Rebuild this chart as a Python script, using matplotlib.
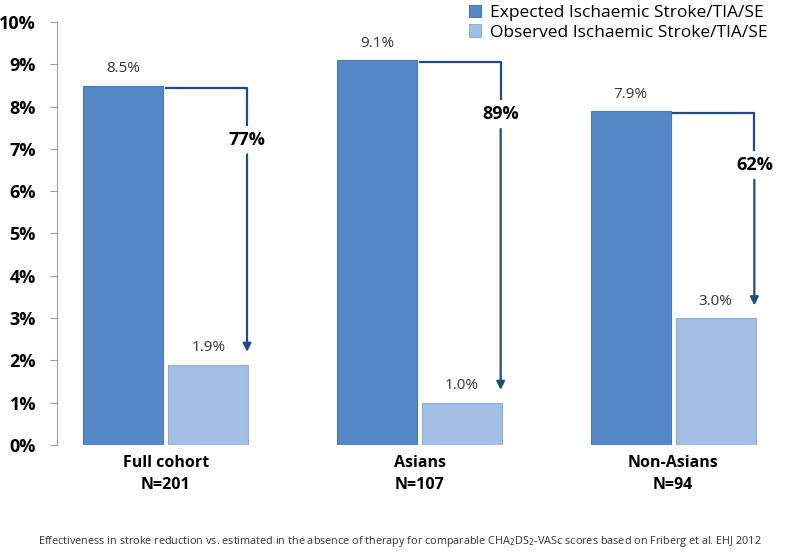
import matplotlib.pyplot as plt
import numpy as np

plt.rcParams['font.family'] = ['Open Sans', 'DejaVu Sans']

groups = ['Full cohort\nN=201', 'Asians\nN=107', 'Non-Asians\nN=94']
expected = [8.5, 9.1, 7.9]
observed = [1.9, 1.0, 3.0]
reduction = ['77%', '89%', '62%']
series = ['Expected Ischaemic Stroke/TIA/SE', 'Observed Ischaemic Stroke/TIA/SE']
footnote = ('Effectiveness in stroke reduction vs. estimated in the absence of therapy '
            'for comparable CHA$_2$DS$_2$-VASc scores based on Friberg et al. EHJ 2012')

c_exp = '#5588C8'
c_obs = '#A3BFE3'
c_arrow = '#1F4B86'

fig = plt.figure(figsize=(8, 5.52), dpi=100)
ax = fig.add_axes([0.071, 0.194, 0.929, 0.766])

x = np.arange(len(groups))
w = 0.315
gap = 0.02
xe = x - (w + gap) / 2
xo = x + (w + gap) / 2
b1 = ax.bar(xe, expected, w, color=c_exp, edgecolor='#4A79B5', linewidth=0.8, label=series[0])
b2 = ax.bar(xo, observed, w, color=c_obs, edgecolor='#8FAED6', linewidth=0.8, label=series[1])

for xi, v in zip(xe, expected):
    ax.text(xi, v + 0.22, f'{v:.1f}%', ha='center', va='bottom', fontsize=11, color='#333333')
for xi, v in zip(xo, observed):
    ax.text(xi, v + 0.22, f'{v:.1f}%', ha='center', va='bottom', fontsize=11, color='#333333')

# reduction arrows
for i in range(len(groups)):
    x0 = xe[i] + w / 2 + 0.01
    x1 = xo[i] + w / 2 - 0.005
    top = expected[i] - 0.05
    bot = observed[i] + 0.3
    ymid = expected[i] - 1.28
    ax.plot([x0, x1, x1], [top, top, ymid + 0.35], color=c_arrow, lw=1.6)
    ax.annotate('', xy=(x1, bot), xytext=(x1, ymid - 0.35),
                arrowprops=dict(arrowstyle='-|>', color=c_arrow, lw=1.6,
                                mutation_scale=12, shrinkA=0, shrinkB=0))
    ax.text(x1, ymid, reduction[i], ha='center', va='center', fontsize=13,
            fontweight='bold', color='black')

ax.set_ylim(0, 10)
ax.set_xlim(-0.43, 2.5)
ax.set_yticks(range(0, 11))
ax.set_yticklabels([f'{t}%' for t in range(0, 11)], fontsize=13, fontweight='bold')
ax.set_xticks(x)
ax.set_xticklabels(groups, fontsize=11.5, fontweight='bold', linespacing=1.55)
ax.tick_params(axis='x', length=0, pad=7)
ax.tick_params(axis='y', length=5, color='#A0A0A0', pad=10)
for s in ['top', 'right', 'bottom']:
    ax.spines[s].set_visible(False)
ax.spines['left'].set_color('#A0A0A0')

fig.legend(handles=[b1, b2], loc='upper left', bbox_to_anchor=(0.578, 1.004),
           frameon=False, fontsize=12.5, handlelength=0.7, handleheight=0.7,
           handletextpad=0.5, labelspacing=0.2, borderaxespad=0)

fig.text(0.5, 0.006, footnote, ha='center', va='bottom', fontsize=7.8, color='#333333')

fig.savefig('out.png', dpi=100)
